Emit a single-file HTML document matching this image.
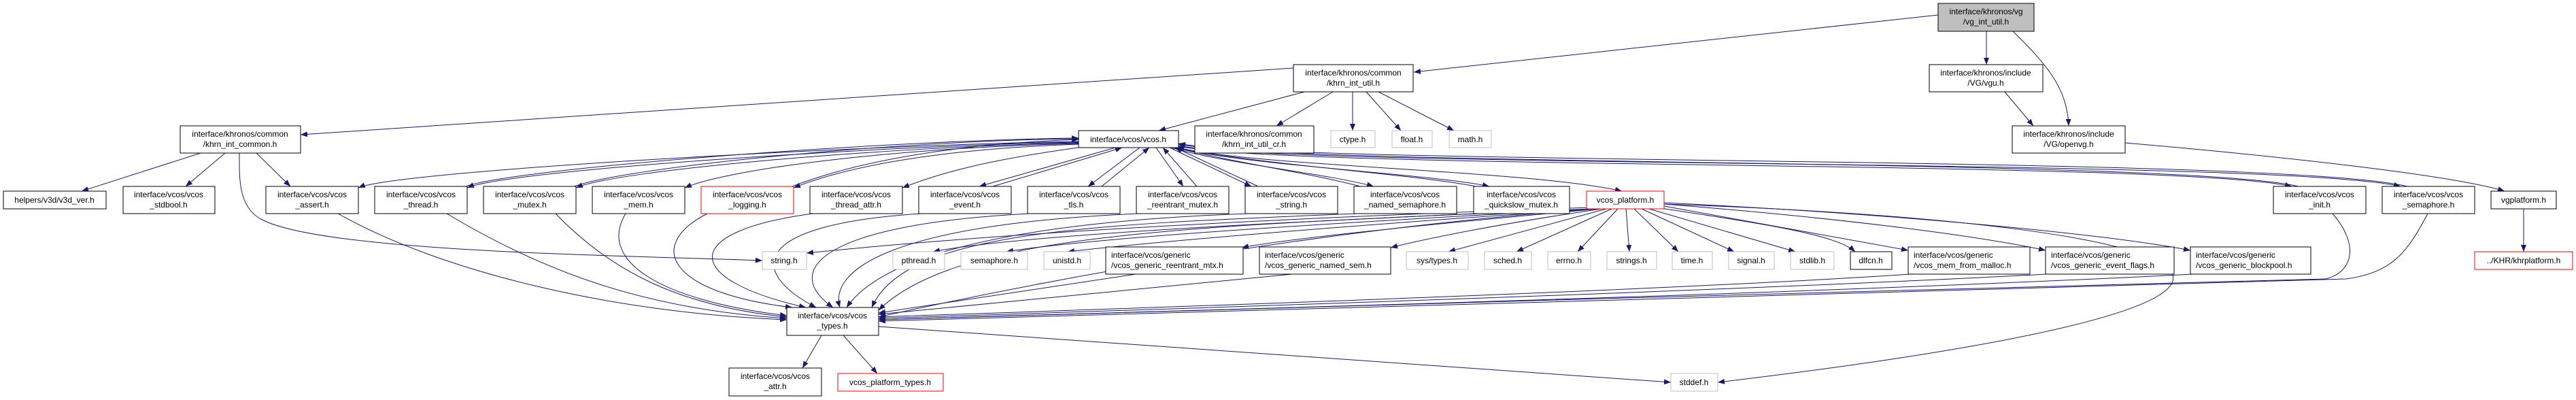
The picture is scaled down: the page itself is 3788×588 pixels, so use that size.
<!DOCTYPE html>
<html><head><meta charset="utf-8"><style>
html,body{margin:0;padding:0;background:#fff}
svg{display:block}
text{font-family:"Liberation Sans",sans-serif;font-size:12px;fill:#000}
.n{fill:#fff;stroke:#000;stroke-width:1}
.g{fill:#fff;stroke:#bfbfbf;stroke-width:1}
.r{fill:#fff;stroke:#ff0000;stroke-width:1}
.e{fill:none;stroke:#191970;stroke-width:1;marker-end:url(#a)}
</style></head><body>
<svg width="3788" height="588" viewBox="0 0 3788 588" xmlns="http://www.w3.org/2000/svg">
<defs><marker id="a" markerUnits="userSpaceOnUse" markerWidth="10" markerHeight="8" refX="10" refY="4" orient="auto"><path d="M0,0 L10,4 L0,8 z" fill="#191970"/></marker></defs>
<g>
<path class="e" d="M2850,22 L2079,106"/>
<path class="e" d="M2921,46 L2921,95"/>
<path class="e" d="M2960,46 C3010,95 3040,130 3042,185"/>
<path class="e" d="M2948,135 L2990,185"/>
<path class="e" d="M3125,210 C3300,225 3600,255 3683,281"/>
<path class="e" d="M3711,307 L3711,370"/>
<path class="e" d="M1902,100 L442,198"/>
<path class="e" d="M1918,135 L1704,192"/>
<path class="e" d="M1960,135 L1877,185"/>
<path class="e" d="M1989,135 L1989,192"/>
<path class="e" d="M2009,135 L2060,192"/>
<path class="e" d="M2027,135 L2138,192"/>
<path class="e" d="M295,225 L120,281"/>
<path class="e" d="M331,225 L273,274"/>
<path class="e" d="M377,225 L427,274"/>
<path class="e" d="M352,225 C352,260 350,300 380,320 C460,370 900,375 1121,383"/>
<path class="e" d="M1586,208 C1300,212 587,250 527,276"/>
<path class="e" d="M1586,209 C1300,214 747,250 687,276"/>
<path class="e" d="M682,275 C747,248 1300,206 1586,203"/>
<path class="e" d="M1586,210 C1300,216 907,250 847,276"/>
<path class="e" d="M842,275 C907,248 1300,207 1586,204"/>
<path class="e" d="M1586,211 C1300,218 1067,250 1007,276"/>
<path class="e" d="M1586,212 C1350,220 1227,252 1167,276"/>
<path class="e" d="M1162,275 C1227,250 1350,214 1586,205"/>
<path class="e" d="M1600,215 C1450,235 1380,255 1327,276"/>
<path class="e" d="M1640,217 L1440,274"/><path class="e" d="M1460,274 L1650,217"/>
<path class="e" d="M1676,217 L1600,274"/><path class="e" d="M1620,274 L1690,217"/>
<path class="e" d="M1700,217 L1740,274"/><path class="e" d="M1760,274 L1710,217"/>
<path class="e" d="M1720,217 L1840,274"/><path class="e" d="M1850,274 L1728,217"/>
<path class="e" d="M1722,217 C1800,240 1950,255 2020,274"/><path class="e" d="M2000,274 C1930,255 1820,240 1728,217"/>
<path class="e" d="M1726,217 C1850,245 2100,255 2190,274"/><path class="e" d="M2170,274 C2080,256 1850,242 1731,217"/>
<path class="e" d="M1730,217 C1850,245 2250,250 2385,281"/>
<path class="e" d="M1733,215 C1900,250 3200,235 3370,274"/><path class="e" d="M3380,274 C3200,232 1900,245 1733,212"/>
<path class="e" d="M1733,214 C1900,248 3350,232 3530,274"/><path class="e" d="M3540,274 C3350,228 1900,243 1733,211"/>
<path class="e" d="M497,314 C650,400 900,460 1157,470"/>
<path class="e" d="M657,314 C800,400 950,455 1157,468"/>
<path class="e" d="M817,314 C900,400 1000,450 1157,466"/>
<path class="e" d="M920,314 C880,380 960,440 1157,464"/>
<path class="e" d="M1040,314 C950,360 980,430 1165,452"/>
<path class="e" d="M1195,314 C1000,340 1000,410 1185,452"/>
<path class="e" d="M1355,314 C1100,330 1100,400 1200,452"/>
<path class="e" d="M1515,314 C1200,330 1150,400 1225,452"/>
<path class="e" d="M1675,314 C1300,330 1220,400 1235,452"/>
<path class="e" d="M1835,314 C1400,330 1280,400 1245,452"/>
<path class="e" d="M1995,314 C1600,330 1330,340 1282,452"/>
<path class="e" d="M2170,314 C1700,335 1400,350 1292,456"/>
<path class="e" d="M3430,314 C3470,360 3460,400 3420,410 C3000,425 1600,455 1292,470"/>
<path class="e" d="M3570,314 C3540,370 3520,400 3450,410 C3000,428 1600,458 1292,472"/>
<path class="e" d="M1670,403 L1292,460"/>
<path class="e" d="M1900,403 L1292,462"/>
<path class="e" d="M2810,403 C2400,430 1600,455 1292,466"/>
<path class="e" d="M3010,403 C2500,430 1600,458 1292,468"/>
<path class="e" d="M3225,403 C2600,435 1600,460 1292,470"/>
<path class="e" d="M2345,307 C1900,340 1500,420 1292,466"/>
<path class="e" d="M1292,480 L2457,562"/>
<path class="e" d="M1208,493 L1180,541"/>
<path class="e" d="M1240,493 L1290,549"/>
<path class="e" d="M2447,300 C3300,330 3550,440 2526,562"/>
<path class="e" d="M2340,305 C1900,320 1500,340 1186,372"/>
<path class="e" d="M2342,307 C1900,325 1500,345 1372,370"/>
<path class="e" d="M2345,307 C1950,328 1600,350 1480,370"/>
<path class="e" d="M2348,307 C2000,330 1700,355 1570,370"/>
<path class="e" d="M2350,307 C2100,330 1900,350 1826,364"/>
<path class="e" d="M2355,307 C2200,330 2100,350 2045,364"/>
<path class="e" d="M2362,307 L2130,370"/>
<path class="e" d="M2370,307 L2230,370"/>
<path class="e" d="M2379,307 L2320,370"/>
<path class="e" d="M2391,307 L2396,370"/>
<path class="e" d="M2403,307 L2468,370"/>
<path class="e" d="M2414,307 L2550,370"/>
<path class="e" d="M2425,307 L2640,370"/>
<path class="e" d="M2435,305 C2600,330 2700,345 2728,370"/>
<path class="e" d="M2447,303 L2806,368"/>
<path class="e" d="M2447,300 C2700,320 2900,345 3008,368"/>
<path class="e" d="M2447,298 C2800,315 3100,345 3221,368"/>
</g>
<rect x="2850" y="5" width="141" height="41" fill="#bfbfbf" stroke="#000"/>
<text x="2920.5" y="21" text-anchor="middle">interface/khronos/vg</text><text x="2920.5" y="36" text-anchor="middle">/vg_int_util.h</text>
<rect class="n" x="1902" y="95" width="176" height="40"/><text x="1990" y="111" text-anchor="middle">interface/khronos/common</text><text x="1990" y="126" text-anchor="middle">/khrn_int_util.h</text>
<rect class="n" x="2837" y="95" width="167" height="40"/><text x="2920" y="111" text-anchor="middle">interface/khronos/include</text><text x="2920" y="126" text-anchor="middle">/VG/vgu.h</text>
<rect class="n" x="265" y="185" width="177" height="40"/><text x="353" y="201" text-anchor="middle">interface/khronos/common</text><text x="353" y="216" text-anchor="middle">/khrn_int_common.h</text>
<rect class="n" x="1586" y="192" width="147" height="25"/><text x="1659" y="209" text-anchor="middle">interface/vcos/vcos.h</text>
<rect class="n" x="1757" y="185" width="175" height="40"/><text x="1844" y="201" text-anchor="middle">interface/khronos/common</text><text x="1844" y="216" text-anchor="middle">/khrn_int_util_cr.h</text>
<rect class="g" x="1957" y="192" width="65" height="25"/><text x="1989" y="209" text-anchor="middle">ctype.h</text>
<rect class="g" x="2047" y="192" width="59" height="25"/><text x="2076" y="209" text-anchor="middle">float.h</text>
<rect class="g" x="2131" y="192" width="62" height="25"/><text x="2162" y="209" text-anchor="middle">math.h</text>
<rect class="n" x="2959" y="185" width="166" height="40"/><text x="3042" y="201" text-anchor="middle">interface/khronos/include</text><text x="3042" y="216" text-anchor="middle">/VG/openvg.h</text>
<rect class="n" x="5" y="281" width="151" height="26"/><text x="80" y="298" text-anchor="middle">helpers/v3d/v3d_ver.h</text>
<rect class="n" x="181" y="274" width="135" height="40"/><text x="248" y="290" text-anchor="middle">interface/vcos/vcos</text><text x="248" y="305" text-anchor="middle">_stdbool.h</text>
<rect class="n" x="391" y="274" width="136" height="40"/><text x="459" y="290" text-anchor="middle">interface/vcos/vcos</text><text x="459" y="305" text-anchor="middle">_assert.h</text>
<rect class="n" x="551" y="274" width="136" height="40"/><text x="619" y="290" text-anchor="middle">interface/vcos/vcos</text><text x="619" y="305" text-anchor="middle">_thread.h</text>
<rect class="n" x="711" y="274" width="136" height="40"/><text x="779" y="290" text-anchor="middle">interface/vcos/vcos</text><text x="779" y="305" text-anchor="middle">_mutex.h</text>
<rect class="n" x="871" y="274" width="136" height="40"/><text x="939" y="290" text-anchor="middle">interface/vcos/vcos</text><text x="939" y="305" text-anchor="middle">_mem.h</text>
<rect class="r" x="1031" y="274" width="136" height="40"/><text x="1099" y="290" text-anchor="middle">interface/vcos/vcos</text><text x="1099" y="305" text-anchor="middle">_logging.h</text>
<rect class="n" x="1191" y="274" width="136" height="40"/><text x="1259" y="290" text-anchor="middle">interface/vcos/vcos</text><text x="1259" y="305" text-anchor="middle">_thread_attr.h</text>
<rect class="n" x="1351" y="274" width="136" height="40"/><text x="1419" y="290" text-anchor="middle">interface/vcos/vcos</text><text x="1419" y="305" text-anchor="middle">_event.h</text>
<rect class="n" x="1511" y="274" width="136" height="40"/><text x="1579" y="290" text-anchor="middle">interface/vcos/vcos</text><text x="1579" y="305" text-anchor="middle">_tls.h</text>
<rect class="n" x="1671" y="274" width="136" height="40"/><text x="1739" y="290" text-anchor="middle">interface/vcos/vcos</text><text x="1739" y="305" text-anchor="middle">_reentrant_mutex.h</text>
<rect class="n" x="1831" y="274" width="136" height="40"/><text x="1899" y="290" text-anchor="middle">interface/vcos/vcos</text><text x="1899" y="305" text-anchor="middle">_string.h</text>
<rect class="n" x="1991" y="274" width="151" height="40"/><text x="2066" y="290" text-anchor="middle">interface/vcos/vcos</text><text x="2066" y="305" text-anchor="middle">_named_semaphore.h</text>
<rect class="n" x="2167" y="274" width="141" height="40"/><text x="2237" y="290" text-anchor="middle">interface/vcos/vcos</text><text x="2237" y="305" text-anchor="middle">_quickslow_mutex.h</text>
<rect class="r" x="2333" y="281" width="114" height="26"/><text x="2390" y="298" text-anchor="middle">vcos_platform.h</text>
<rect class="n" x="3343" y="274" width="136" height="40"/><text x="3411" y="290" text-anchor="middle">interface/vcos/vcos</text><text x="3411" y="305" text-anchor="middle">_init.h</text>
<rect class="n" x="3503" y="274" width="136" height="40"/><text x="3571" y="290" text-anchor="middle">interface/vcos/vcos</text><text x="3571" y="305" text-anchor="middle">_semaphore.h</text>
<rect class="n" x="3663" y="281" width="96" height="26"/><text x="3711" y="298" text-anchor="middle">vgplatform.h</text>
<rect class="g" x="1121" y="370" width="65" height="26"/><text x="1153" y="387" text-anchor="middle">string.h</text>
<rect class="g" x="1313" y="370" width="76" height="26"/><text x="1351" y="387" text-anchor="middle">pthread.h</text>
<rect class="g" x="1413" y="370" width="98" height="26"/><text x="1462" y="387" text-anchor="middle">semaphore.h</text>
<rect class="g" x="1535" y="370" width="68" height="26"/><text x="1569" y="387" text-anchor="middle">unistd.h</text>
<rect class="n" x="1626" y="363" width="202" height="40"/><text x="1634" y="379">interface/vcos/generic</text><text x="1634" y="394">/vcos_generic_reentrant_mtx.h</text>
<rect class="n" x="1852" y="363" width="193" height="40"/><text x="1860" y="379">interface/vcos/generic</text><text x="1860" y="394">/vcos_generic_named_sem.h</text>
<rect class="g" x="2068" y="370" width="91" height="26"/><text x="2113" y="387" text-anchor="middle">sys/types.h</text>
<rect class="g" x="2183" y="370" width="69" height="26"/><text x="2217" y="387" text-anchor="middle">sched.h</text>
<rect class="g" x="2276" y="370" width="63" height="26"/><text x="2307" y="387" text-anchor="middle">errno.h</text>
<rect class="g" x="2363" y="370" width="73" height="26"/><text x="2399" y="387" text-anchor="middle">strings.h</text>
<rect class="g" x="2459" y="370" width="59" height="26"/><text x="2488" y="387" text-anchor="middle">time.h</text>
<rect class="g" x="2542" y="370" width="67" height="26"/><text x="2575" y="387" text-anchor="middle">signal.h</text>
<rect class="g" x="2633" y="370" width="64" height="26"/><text x="2665" y="387" text-anchor="middle">stdlib.h</text>
<rect class="n" x="2721" y="370" width="61" height="26"/><text x="2751" y="387" text-anchor="middle">dlfcn.h</text>
<rect class="n" x="2806" y="363" width="179" height="40"/><text x="2814" y="379">interface/vcos/generic</text><text x="2814" y="394">/vcos_mem_from_malloc.h</text>
<rect class="n" x="3008" y="363" width="189" height="40"/><text x="3016" y="379">interface/vcos/generic</text><text x="3016" y="394">/vcos_generic_event_flags.h</text>
<rect class="n" x="3221" y="363" width="177" height="40"/><text x="3229" y="379">interface/vcos/generic</text><text x="3229" y="394">/vcos_generic_blockpool.h</text>
<rect class="r" x="3639" y="370" width="144" height="26"/><text x="3711" y="387" text-anchor="middle">../KHR/khrplatform.h</text>
<rect class="n" x="1157" y="452" width="135" height="41"/><text x="1224" y="468" text-anchor="middle">interface/vcos/vcos</text><text x="1224" y="483" text-anchor="middle">_types.h</text>
<rect class="n" x="1072" y="541" width="136" height="41"/><text x="1140" y="557" text-anchor="middle">interface/vcos/vcos</text><text x="1140" y="572" text-anchor="middle">_attr.h</text>
<rect class="r" x="1232" y="549" width="155" height="26"/><text x="1309" y="566" text-anchor="middle">vcos_platform_types.h</text>
<rect class="g" x="2457" y="549" width="69" height="26"/><text x="2491" y="566" text-anchor="middle">stddef.h</text>
</svg>
</body></html>
